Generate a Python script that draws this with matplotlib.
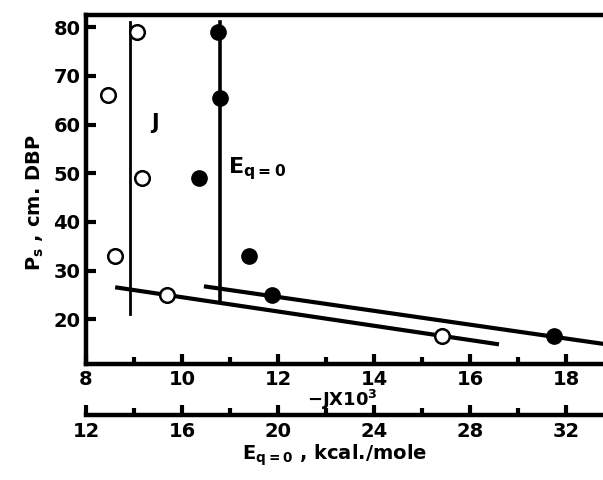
import matplotlib.pyplot as plt
from matplotlib.ticker import FixedLocator

# open circles: P_s against -J x 10^3
j_vals = [9.06, 8.46, 9.17, 8.60, 9.69, 15.42]
j_ps = [79, 66, 49, 33, 25, 16.5]

# filled circles: P_s against E_q=0 (kcal/mole)
e_vals = [17.5, 17.6, 16.7, 18.8, 19.75, 31.5]
e_ps = [79, 65.5, 49, 33, 25, 16.5]

# fitted lines (vertical limit lines and the low-P_s trends)
j_vert_x = [8.92, 8.92]
j_vert_p = [21, 81]
e_vert_x = [17.58, 17.58]
e_vert_p = [24, 81]
j_trend_x = [8.65, 16.56]
j_trend_p = [26.5, 14.9]
e_trend_x = [17.0, 33.6]
e_trend_p = [26.7, 14.9]

j_ticks = [8, 10, 12, 14, 16, 18]
j_minor = [9, 11, 13, 15, 17]
e_ticks = [12, 16, 20, 24, 28, 32]
e_minor = [14, 18, 22, 26, 30]
p_ticks = [20, 30, 40, 50, 60, 70, 80]


def e_to_j(e):
    return (e + 4) / 2


def j_to_e(j):
    return 2 * j - 4


plt.rcParams['font.family'] = 'DejaVu Sans'
plt.rcParams['font.weight'] = 'bold'

fig = plt.figure(figsize=(6.03, 4.8), dpi=100)
ax = fig.add_axes([86 / 603, 116 / 480, 517 / 603, 349 / 480])

ax.plot(j_vert_x, j_vert_p, color='black', lw=2, zorder=2)
ax.plot([e_to_j(v) for v in e_vert_x], e_vert_p, color='black', lw=2.6, zorder=2)
ax.plot(j_trend_x, j_trend_p, color='black', lw=3, zorder=2)
ax.plot([e_to_j(v) for v in e_trend_x], e_trend_p, color='black', lw=3, zorder=2)

ax.plot(j_vals, j_ps, 'o', ms=10.5, mfc='white', mec='black', mew=1.8, zorder=3)
ax.plot([e_to_j(v) for v in e_vals], e_ps, 'o', ms=11, mfc='black', mec='black', zorder=3)

ax.set_xlim(8, 18.77)
ax.set_ylim(10.8, 82.5)

ax.spines['right'].set_visible(False)
for side in ['left', 'bottom', 'top']:
    ax.spines[side].set_linewidth(3.2)

ax.set_xticks(j_ticks)
ax.xaxis.set_minor_locator(FixedLocator(j_minor))
ax.set_yticks(p_ticks)
ax.tick_params(axis='both', which='major', direction='in', length=7, width=3,
               labelsize=14)
ax.tick_params(axis='x', which='minor', direction='in', length=5, width=3)
ax.tick_params(axis='x', pad=4)
ax.tick_params(axis='y', pad=4)

ax.text(9.35, 59, 'J', fontsize=15, fontweight='bold')
ax.text(10.95, 50, r'E$_{\mathbf{q=0}}$', fontsize=16, fontweight='bold')

ax.text(0.495, -0.103, r'$\mathbf{-JX10^3}$', transform=ax.transAxes,
        ha='center', va='center', fontsize=13)

sec = ax.secondary_xaxis(-0.146, functions=(j_to_e, e_to_j))
sec.spines['bottom'].set_linewidth(3.2)
sec.set_xticks(e_ticks)
sec.xaxis.set_minor_locator(FixedLocator(e_minor))
sec.tick_params(axis='x', which='major', direction='in', length=7, width=3,
                labelsize=14, pad=5)
sec.tick_params(axis='x', which='minor', direction='in', length=5, width=3)

fig.text(0.555, 0.052, r'E$_{\mathbf{q=0}}$ , kcal./mole', ha='center', va='center',
         fontsize=14, fontweight='bold')
fig.text(0.058, 0.577, r'P$_{\mathbf{s}}$ , cm. DBP', rotation=90, ha='center',
         va='center', fontsize=14, fontweight='bold')

fig.savefig('out.png', dpi=100)
